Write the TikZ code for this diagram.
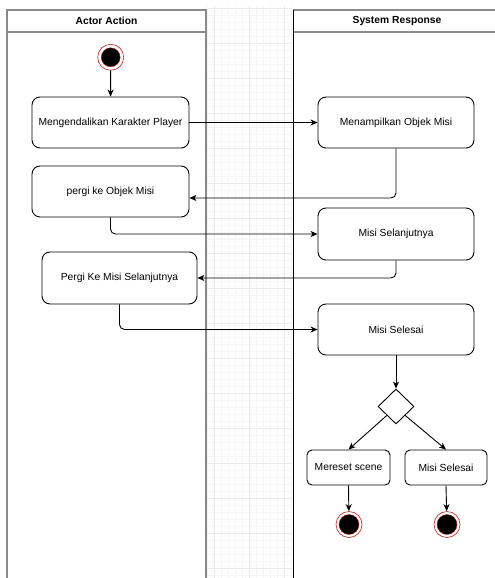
\documentclass[tikz,border=0pt]{standalone}
\usepackage{fontspec}
\setmainfont{Liberation Sans}
\usetikzlibrary{arrows.meta,shapes.geometric,calc}

\definecolor{lanegray}{HTML}{8A8A8A}
\definecolor{gridminor}{HTML}{F5F5F5}
\definecolor{gridmajor}{HTML}{EAEAEA}
\definecolor{ringred}{HTML}{C81E1E}

\begin{document}
\begin{tikzpicture}[x=1pt,y=-1pt,
  txt/.style={font=\fontsize{10.3}{12}\selectfont},
  act/.style={txt, draw, rounded corners=8pt, line width=0.9pt, inner sep=0pt,
    minimum width=157pt, minimum height=51pt},
  smallact/.style={act, rounded corners=5pt, minimum height=35pt},
  decision/.style={draw, diamond, line width=0.9pt, inner sep=0pt,
    minimum width=36pt, minimum height=35pt},
  ring/.style={circle, draw=ringred, line width=0.6pt, fill=white,
    minimum size=26pt, inner sep=0pt},
  lane/.style={draw=lanegray, line width=1.5pt},
  header/.style={font=\fontsize{10.3}{12}\selectfont\bfseries},
  arr/.style={line width=0.9pt, rounded corners=5pt,
    -{Stealth[length=7pt,width=6pt,inset=2pt]}}
]
\useasboundingbox (0,0) rectangle (495,578);
\fill[white] (0,0) rectangle (495,578);

% background grid between the two lanes
\begin{scope}
  \clip (207,7) rectangle (292,578);
  \foreach \gx in {207,214,...,300} \draw[gridminor, line width=0.5pt] (\gx,0) -- (\gx,578);
  \foreach \gy in {1,8,...,585} \draw[gridminor, line width=0.5pt] (200,\gy) -- (300,\gy);
  \foreach \gx in {214,249,284} \draw[gridmajor, line width=0.8pt] (\gx,0) -- (\gx,578);
  \foreach \gy in {8,43,...,585} \draw[gridmajor, line width=0.8pt] (200,\gy) -- (300,\gy);
\end{scope}

% swimlanes
\draw[lane] (7,578) -- (7,10) -- (206,10) -- (206,578);
\draw[lane] (7,32) -- (206,32);
\draw[lane] (293,10) -- (496,10);
\draw[lane] (293,32) -- (496,32);
\draw[line width=0.9pt] (293,10) -- (293,578);
\node[header] (hActor) at (106.5,20.5) {Actor Action};
\node[header] (hSystem) at (397,20.5) {System Response};

% initial state
\node[ring] (start) at (110.7,57.3) {};
\fill[black] (start.center) circle (9.5pt);
\draw[ringred, line width=0.4pt] (start.center) circle (9.5pt);

% actions
\node[act] (a1) at (110.5,122.5) {Mengendalikan Karakter Player};
\node[act] (a2) at (110.5,191.5) {pergi ke Objek Misi};
\node[act, minimum width=155pt, minimum height=52pt] (a3) at (119.5,278) {Pergi Ke Misi Selanjutnya};
\node[act, minimum width=156pt] (s1) at (396,122.5) {Menampilkan Objek Misi};
\node[act, minimum width=156pt, minimum height=52pt] (s2) at (396,234) {Misi Selanjutnya};
\node[act, minimum width=156pt] (s3) at (396,329.5) {Misi Selesai};
\node[decision] (dec) at (396,406.5) {};
\node[smallact, minimum width=83pt] (r1) at (348.5,467.5) {Mereset scene};
\node[smallact, minimum width=82pt] (r2) at (446,467.5) {Misi Selesai};

% final states
\node[ring] (end1) at (349,524.5) {};
\fill[black] (end1.center) circle (10pt);
\draw[ringred, line width=0.4pt] (end1.center) circle (10pt);
\node[ring] (end2) at (447,524.5) {};
\fill[black] (end2.center) circle (10pt);
\draw[ringred, line width=0.4pt] (end2.center) circle (10pt);

% flows
\draw[arr] (start) -- (a1);
\draw[arr] (a1.east) -- (s1.west);
\draw[arr] (s1.south) |- ($(a2.east)+(0,6.5)$);
\draw[arr] (a2.south) |- (s2.west);
\draw[arr] (s2.south) |- (a3.east);
\draw[arr] (a3.south) |- (s3.west);
\draw[arr] (s3.south) -- (dec.north);
\draw[arr] (dec.south west) -- (r1.north);
\draw[arr] (dec.south east) -- (r2.north);
\draw[arr] (r1.south) -- (end1);
\draw[arr] (r2.south) -- (end2);
\end{tikzpicture}
\end{document}
